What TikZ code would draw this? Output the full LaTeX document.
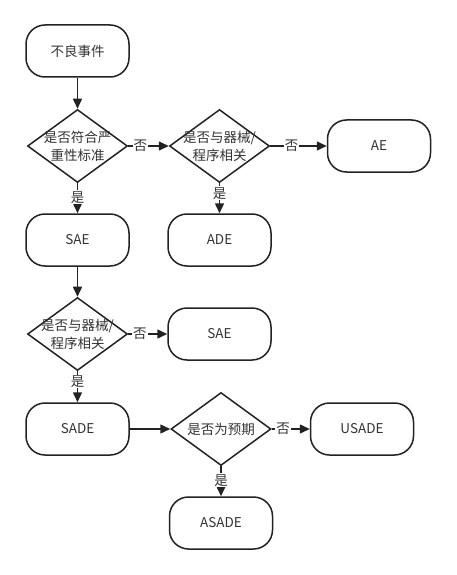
\documentclass[tikz,border=0pt]{standalone}
\usepackage{fontspec}
\setmainfont{Noto Sans CJK SC}
\usetikzlibrary{shapes.geometric,arrows.meta}
\definecolor{ln}{HTML}{222222}
\definecolor{tx}{HTML}{333333}
\begin{document}
\begin{tikzpicture}[x=1pt,y=-1pt,
  every node/.style={font=\fontsize{13.5}{18}\selectfont, text=tx},
  term/.style={draw=ln, line width=1.5pt, rectangle, rounded corners=19pt,
    minimum width=103pt, minimum height=52pt, inner sep=0pt},
  dec/.style={draw=ln, line width=1.5pt, diamond, inner sep=0pt,
    minimum width=100pt, minimum height=73pt},
  arr/.style={draw=ln, line width=1.5pt, -{Triangle[length=10pt,width=9pt]}},
  lbl/.style={fill=white, inner sep=1pt}]
\useasboundingbox (0,0) rectangle (457,575);
\node[term] (n1) at (77.5,51) {不良事件};
\node[dec, label={[align=center,text=tx]center:{是否符合严\\重性标准}}] (d1) at (77.5,146) {};
\node[dec, label={[align=center,text=tx]center:{是否与器械/\\程序相关}}] (d2) at (219.5,146) {};
\node[term] (ae) at (379,146) {AE};
\node[term] (ade) at (219.5,240) {ADE};
\node[term] (sae1) at (77.5,240) {SAE};
\node[dec, label={[align=center,text=tx]center:{是否与器械/\\程序相关}}] (d3) at (77.5,334) {};
\node[term] (sae2) at (219.5,334) {SAE};
\node[term] (sade) at (77.5,429) {SADE};
\node[dec, label={[align=center,text=tx]center:{是否为预期}}] (d4) at (221,429) {};
\node[term] (usade) at (362,429) {USADE};
\node[term] (asade) at (221,523) {ASADE};
\draw[arr] (n1) -- (d1);
\draw[arr] (d1) -- node[lbl,pos=0.3] {否} (d2);
\draw[arr] (d2) -- node[lbl,pos=0.38] {否} (ae);
\draw[arr] (d2) -- node[lbl,pos=0.33] {是} (ade);
\draw[arr] (d1) -- node[lbl,pos=0.47] {是} (sae1);
\draw[arr] (sae1) -- (d3);
\draw[arr] (d3) -- node[lbl,pos=0.3] {否} (sae2);
\draw[arr] (d3) -- node[lbl,pos=0.33] {是} (sade);
\draw[arr] (sade) -- (d4);
\draw[arr] (d4) -- node[lbl,pos=0.3] {否} (usade);
\draw[arr] (d4) -- node[lbl,pos=0.47] {是} (asade);
\end{tikzpicture}
\end{document}
